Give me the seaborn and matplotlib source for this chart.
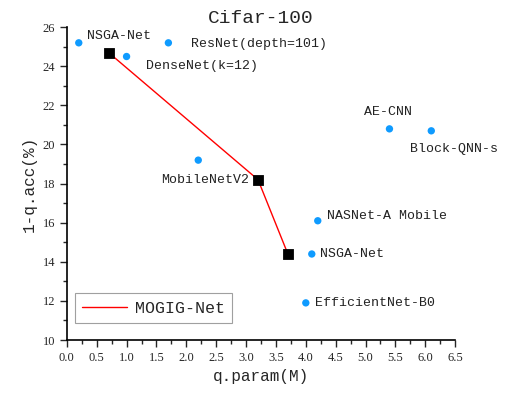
import matplotlib
matplotlib.use("Agg")
import matplotlib.pyplot as plt
from matplotlib.ticker import MultipleLocator
import seaborn as sns
import pandas as pd

# Data
other_names = ["NSGA-Net", "ResNet(depth=101)", "DenseNet(k=12)", "MobileNetV2",
               "AE-CNN", "Block-QNN-s", "NASNet-A Mobile", "NSGA-Net", "EfficientNet-B0"]
other_params = [0.2, 1.7, 1.0, 2.2, 5.4, 6.1, 4.2, 4.1, 4.0]
other_err = [25.2, 25.2, 24.5, 19.2, 20.8, 20.7, 16.1, 14.4, 11.9]

mogig_params = [0.7, 3.2, 3.7]
mogig_err = [24.7, 18.2, 14.4]

# label offsets in pixels (dx, dy, ha)
label_offsets = [(8, 7, "left"), (23, -1, "left"), (19, -9, "left"), (7, -20, "center"),
                 (-1, 17, "center"), (23, -18, "center"), (9, 5, "left"), (8, 0, "left"),
                 (9, 0, "left")]

others = pd.DataFrame({"name": other_names, "param": other_params, "err": other_err})
mogig = pd.DataFrame({"param": mogig_params, "err": mogig_err})

sns.set_style("ticks")
mono = "Liberation Mono"

fig = plt.figure(figsize=(5.22, 3.94), dpi=100)
ax = fig.add_axes([0.128, 0.137, 0.744, 0.794])

sns.lineplot(data=mogig, x="param", y="err", color="red", linewidth=1, sort=False,
             label="MOGIG-Net", ax=ax)
sns.scatterplot(data=mogig, x="param", y="err", marker="s", s=55, color="black",
                edgecolor="black", legend=False, ax=ax, zorder=3)
sns.scatterplot(data=others, x="param", y="err", s=28, color="#0f9bff",
                edgecolor="none", legend=False, ax=ax, zorder=3)

for (name, px, py), (dx, dy, ha) in zip(zip(other_names, other_params, other_err), label_offsets):
    ax.annotate(name, (px, py), xytext=(dx, dy), textcoords="offset pixels",
                ha=ha, va="center", fontsize=9.5, family=mono, color="#222222")

ax.set_xlim(0, 6.5)
ax.set_ylim(10, 26)
ax.xaxis.set_major_locator(MultipleLocator(0.5))
ax.xaxis.set_minor_locator(MultipleLocator(0.25))
ax.yaxis.set_major_locator(MultipleLocator(2))
ax.yaxis.set_minor_locator(MultipleLocator(1))
ax.tick_params(which="major", length=5, width=1, direction="out", labelsize=9)
ax.tick_params(which="minor", length=3, width=1, direction="out")
for lab in ax.get_xticklabels() + ax.get_yticklabels():
    lab.set_family("Liberation Serif")
sns.despine(ax=ax)
for sp in ["left", "bottom"]:
    ax.spines[sp].set_linewidth(1.2)
    ax.spines[sp].set_color("black")

ax.set_xlabel("q.param(M)", fontsize=11.5, family=mono, labelpad=4)
ax.set_ylabel("1-q.acc(%)", fontsize=11.5, family=mono, labelpad=4)
ax.set_title("Cifar-100", fontsize=14, family=mono, pad=3)

leg = ax.legend(loc="lower left", bbox_to_anchor=(0.02, 0.054), borderaxespad=0,
                prop={"family": mono, "size": 12}, frameon=True, fancybox=False,
                edgecolor="#888888", handlelength=2.7, handletextpad=0.45,
                borderpad=0.45)
leg.get_frame().set_linewidth(0.8)

fig.savefig("out.png", dpi=100)
